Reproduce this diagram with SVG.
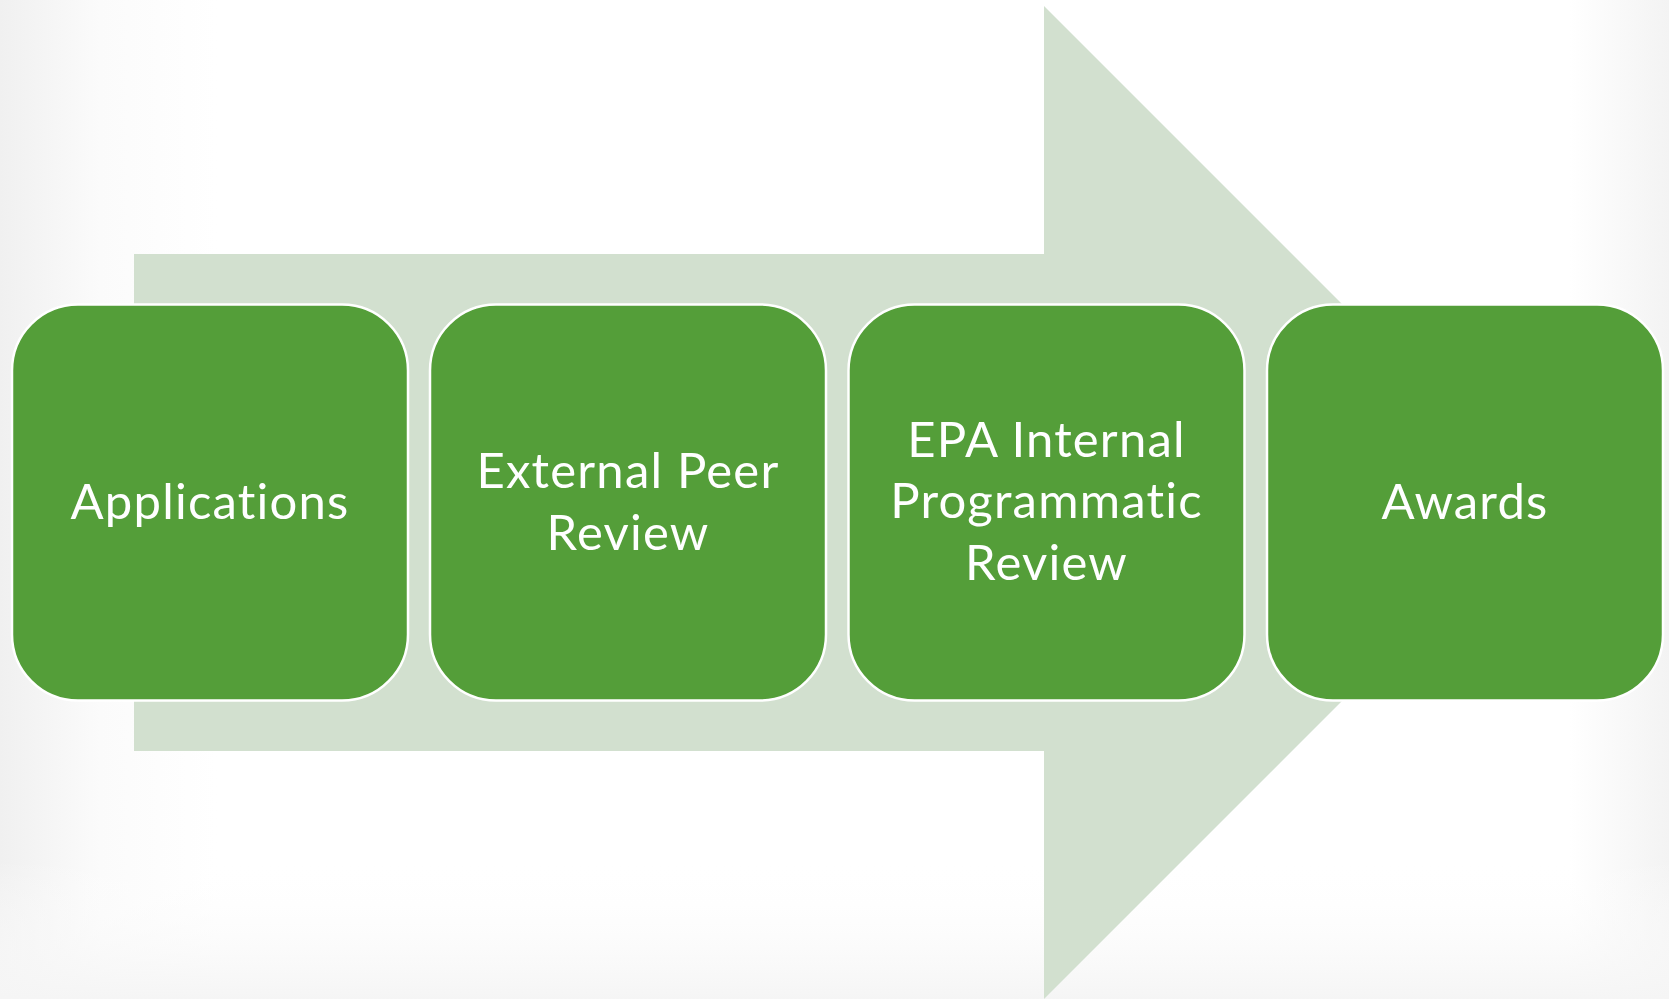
<svg xmlns="http://www.w3.org/2000/svg" width="1669" height="999" viewBox="0 0 1669 999">
<defs>
<linearGradient id="bgL" x1="0" y1="0" x2="1" y2="0">
<stop offset="0" stop-color="#f0f0f0"/>
<stop offset="0.06" stop-color="#fbfbfb"/>
<stop offset="0.13" stop-color="#ffffff"/>
<stop offset="0.94" stop-color="#ffffff"/>
<stop offset="1" stop-color="#f3f3f3"/>
</linearGradient>
<linearGradient id="bgB" x1="0" y1="0" x2="0" y2="1">
<stop offset="0.86" stop-color="#ffffff" stop-opacity="0"/>
<stop offset="1" stop-color="#f5f5f5" stop-opacity="1"/>
</linearGradient>
<style>
.box{fill:#549E39;stroke:#ffffff;stroke-width:2.5}
.lbl{font-family:Lato,"Open Sans","Liberation Sans",sans-serif;font-size:49px;letter-spacing:1.2px;font-variant-ligatures:none;font-feature-settings:"liga" 0;fill:#ffffff;text-anchor:middle}
</style>
</defs>
<rect x="0" y="0" width="1669" height="999" fill="url(#bgL)"/>
<rect x="0" y="0" width="1669" height="999" fill="url(#bgB)"/>
<g id="connectors">
<polygon points="134,254 1044,254 1044,6 1540.5,502.5 1044,999 1044,751 134,751" fill="#D2E0CF"/>
</g>
<g id="node-applications">
<rect class="box" x="12" y="304.5" width="396" height="396" rx="66" ry="66"/>
<text class="lbl" x="210" y="519">Applications</text>
</g>
<g id="node-external-peer-review">
<rect class="box" x="430" y="304.5" width="396" height="396" rx="66" ry="66"/>
<text class="lbl" x="628" y="488">External Peer</text>
<text class="lbl" x="628" y="549.5">Review</text>
</g>
<g id="node-epa-internal-review">
<rect class="box" x="848.5" y="304.5" width="396" height="396" rx="66" ry="66"/>
<text class="lbl" x="1046.5" y="456.5">EPA Internal</text>
<text class="lbl" x="1046.5" y="518">Programmatic</text>
<text class="lbl" x="1046.5" y="579.5">Review</text>
</g>
<g id="node-awards">
<rect class="box" x="1267" y="304.5" width="396" height="396" rx="66" ry="66"/>
<text class="lbl" x="1465" y="519">Awards</text>
</g>
</svg>
